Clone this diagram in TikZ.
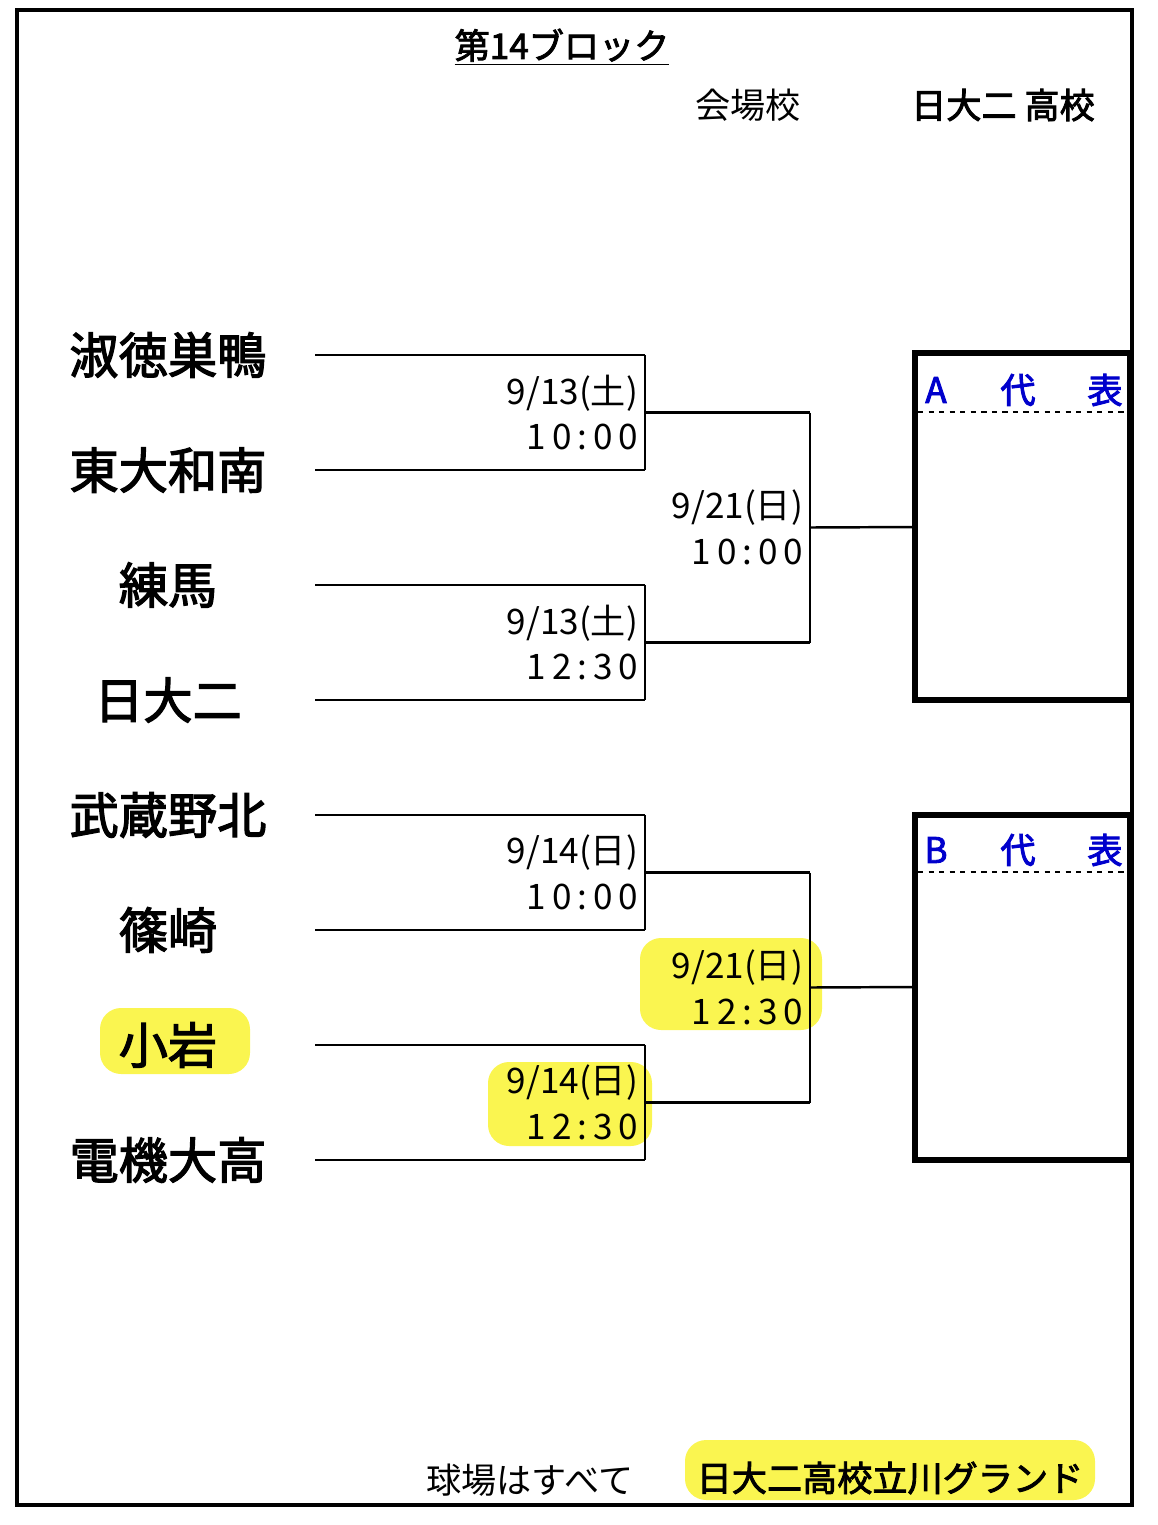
\documentclass[tikz,border=0pt]{standalone}
\usepackage{fontspec}
\setmainfont{Noto Sans CJK JP}
\newfontfamily\jpb{Noto Sans CJK JP}[FakeBold=2.5]
\usetikzlibrary{positioning,calc}
\definecolor{hilite}{RGB}{250,245,80}
\tikzset{
  team/.style={font=\jpb\fontsize{28}{30}\selectfont},
  date/.style={anchor=east,inner sep=1pt,font=\fontsize{20}{22}\selectfont},
  line/.style={line width=1.4pt},
  repbox/.style={line width=3pt},
  rep/.style={text=blue!80!black,font=\jpb\fontsize{20}{22}\selectfont},
  hmark/.style={fill=hilite,rounded corners=12pt}
}
\begin{document}
\begin{tikzpicture}[x=0.02cm,y=-0.02cm]
\useasboundingbox (0,0) rectangle (1158,1525);
% highlights
\fill[hmark] (100,1008) rectangle (250,1074);
\fill[hmark] (640,938) rectangle (822,1030);
\fill[hmark] (488,1062) rectangle (652,1146);
\fill[hmark] (685,1440) rectangle (1095,1500);
% frame
\draw[line width=2.5pt] (17,10) rectangle (1132,1505);
\node[font=\jpb\fontsize{20}{22}\selectfont] (title) at (562,47) {\underline{第14ブロック}};
\node[font=\fontsize{20}{22}\selectfont] (venue) at (748,105) {会場校};
\node[font=\jpb\fontsize{20}{22}\selectfont] (host) at (1003,105) {日大二\ 高校};
% teams
\foreach \name [count=\i] in {淑徳巣鴨,東大和南,練馬,日大二,武蔵野北,篠崎,小岩,電機大高}{
  \node[team] (t\i) at (168,240+115*\i) {\name};
  \coordinate (s\i) at (315,240+115*\i);
  \coordinate (e\i) at (645,240+115*\i);
  \draw[line] (s\i) -- (e\i);
}
% first round
\foreach \a/\b/\m in {1/2/1,3/4/2,5/6/3,7/8/4}{
  \draw[line] (e\a) -- (e\b);
  \coordinate (m\m) at ($(e\a)!0.5!(e\b)$);
  \coordinate (n\m) at (810,{(240+115*\a+240+115*\b)/2});
  \draw[line] (m\m) -- (n\m);
}
\draw[line] (n1) -- (n2);
\draw[line] (n3) -- (n4);
\coordinate (f1) at ($(n1)!0.5!(n2)$);
\coordinate (f2) at ($(n3)!0.5!(n4)$);
\draw[line] (f1) -- (915,527);
\draw[line] (f2) -- (915,987);
% dates
\node[date] (d1) at (640,393) {9/13(土)};
\node[date] (d1t) at (640,437) {1\,0\,:\,0\,0};
\node[date] (d2) at (640,623) {9/13(土)};
\node[date] (d2t) at (640,667) {1\,2\,:\,3\,0};
\node[date] (d3) at (640,853) {9/14(日)};
\node[date] (d3t) at (640,897) {1\,0\,:\,0\,0};
\node[date] (d4) at (640,1083) {9/14(日)};
\node[date] (d4t) at (640,1127) {1\,2\,:\,3\,0};
\node[date] (d5) at (805,508) {9/21(日)};
\node[date] (d5t) at (805,552) {1\,0\,:\,0\,0};
\node[date] (d6) at (805,968) {9/21(日)};
\node[date] (d6t) at (805,1012) {1\,2\,:\,3\,0};
% representative boxes
\draw[repbox] (915,353) rectangle (1130,700);
\draw[dashed,line width=1pt] (918,412) -- (1127,412);
\node[rep] (ra) at (936,390) {A};
\node[rep] (ra2) at (1018,390) {代};
\node[rep] (ra3) at (1105,390) {表};
\draw[repbox] (915,815) rectangle (1130,1160);
\draw[dashed,line width=1pt] (918,872) -- (1127,872);
\node[rep] (rb) at (936,850) {B};
\node[rep] (rb2) at (1018,850) {代};
\node[rep] (rb3) at (1105,850) {表};
% ground
\node[font=\fontsize{20}{22}\selectfont] (gnd) at (530,1480) {球場はすべて};
\node[font=\jpb\fontsize{20}{22}\selectfont] (gnd2) at (890,1478) {日大二高校立川グランド};
\end{tikzpicture}
\end{document}
